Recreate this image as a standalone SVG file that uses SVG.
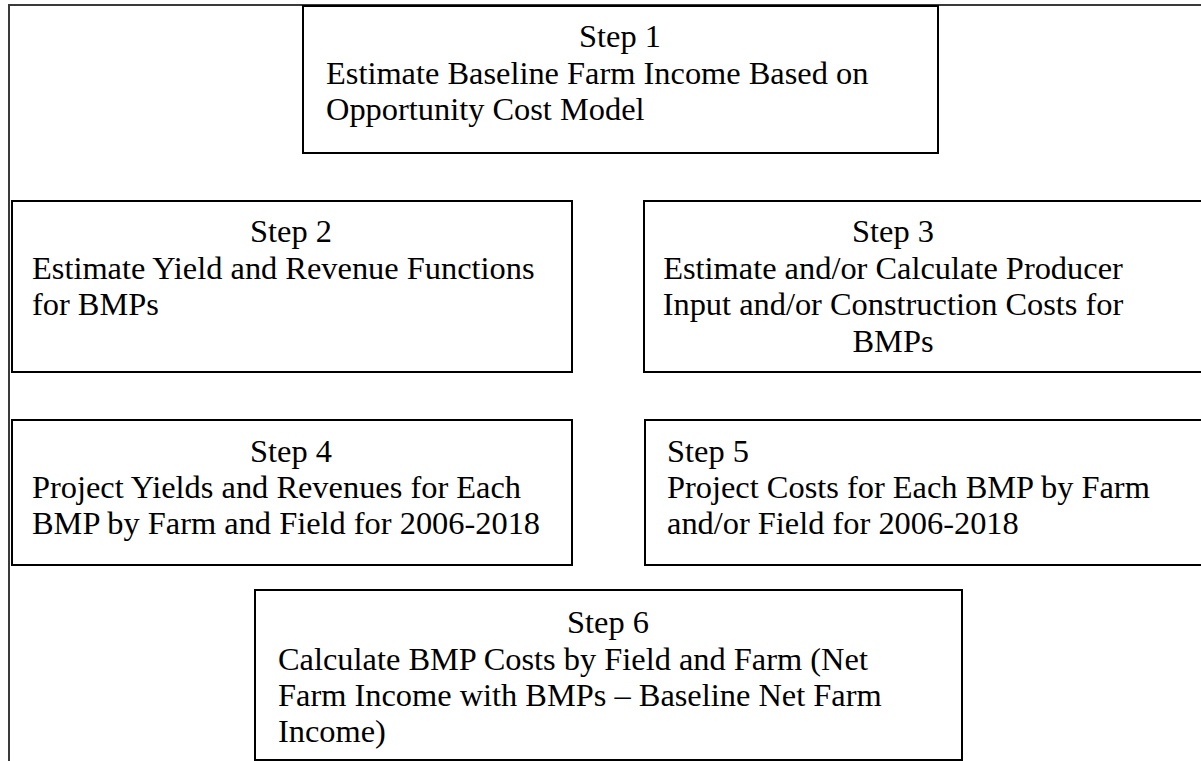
<svg xmlns="http://www.w3.org/2000/svg" width="1201" height="761" viewBox="0 0 1201 761">
<style>
.box{fill:#fff;stroke:#000;stroke-width:2}
.frame{fill:none;stroke:#3a3a3a;stroke-width:2}
text{font-family:"Liberation Serif","Times New Roman",serif;font-size:32.4px;fill:#000}
.c{text-anchor:middle}
</style>
<rect width="1201" height="761" fill="#fff"/>
<g id="connectors">
<path class="frame" d="M9,762 V5 H1202"/>
</g>
<g id="step1">
<rect class="box" x="303" y="6" width="635" height="147"/>
<text class="c" x="620" y="47">Step 1</text>
<text x="326" y="84">Estimate Baseline Farm Income Based on</text>
<text x="326" y="120">Opportunity Cost Model</text>
</g>
<g id="step2">
<rect class="box" x="12" y="201" width="560" height="171"/>
<text class="c" x="291" y="242">Step 2</text>
<text x="32" y="279">Estimate Yield and Revenue Functions</text>
<text x="32" y="315">for BMPs</text>
</g>
<g id="step3">
<rect class="box" x="644" y="201" width="580" height="171"/>
<text class="c" x="893" y="242">Step 3</text>
<text class="c" x="893" y="279">Estimate and/or Calculate Producer</text>
<text class="c" x="893" y="315">Input and/or Construction Costs for</text>
<text class="c" x="893" y="352">BMPs</text>
</g>
<g id="step4">
<rect class="box" x="12" y="420" width="560" height="145"/>
<text class="c" x="291" y="462">Step 4</text>
<text x="32" y="498">Project Yields and Revenues for Each</text>
<text x="32" y="534">BMP by Farm and Field for 2006-2018</text>
</g>
<g id="step5">
<rect class="box" x="645" y="420" width="580" height="145"/>
<text x="667" y="462">Step 5</text>
<text x="667" y="498">Project Costs for Each BMP by Farm</text>
<text x="667" y="534">and/or Field for 2006-2018</text>
</g>
<g id="step6">
<rect class="box" x="255" y="590" width="707" height="170"/>
<text class="c" x="608" y="633">Step 6</text>
<text x="278" y="670">Calculate BMP Costs by Field and Farm (Net</text>
<text x="278" y="706">Farm Income with BMPs – Baseline Net Farm</text>
<text x="278" y="742">Income)</text>
</g>
</svg>
